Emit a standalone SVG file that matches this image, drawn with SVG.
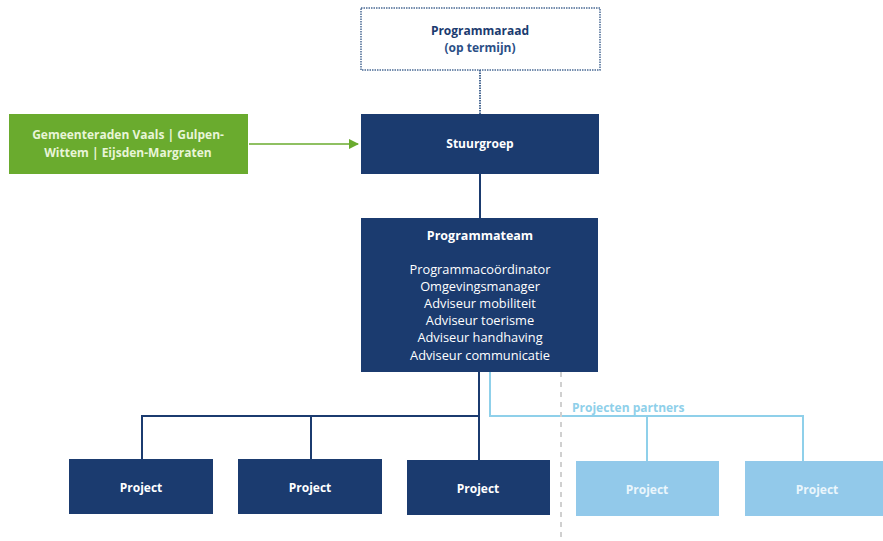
<svg xmlns="http://www.w3.org/2000/svg" width="883" height="541" viewBox="0 0 883 541">
<defs>
<style>
.dark{fill:#1b3b6f}
.light{fill:#92c9ea}
.t{font-family:"Open Sans","Liberation Sans",sans-serif;font-size:12px;text-anchor:middle}
.m{font-size:12.8px}
.b{font-weight:bold}
.w{fill:#ffffff}
.lc{fill:none;stroke:#1b3b6f;stroke-width:2}
.lb{fill:none;stroke:#8fd0ea;stroke-width:2}
</style>
<marker id="arr" viewBox="0 0 10 10" refX="9" refY="5" markerWidth="7" markerHeight="7" orient="auto">
<path d="M0,0 L10,5 L0,10 z" fill="#6aab2e"/>
</marker>
</defs>
<rect width="883" height="541" fill="#ffffff"/>
<g id="connectors">
<line x1="480" y1="70" x2="480" y2="114" stroke="#4a6a94" stroke-width="2" stroke-dasharray="1.5 1"/>
<line x1="249" y1="144" x2="358" y2="144" stroke="#6aab2e" stroke-width="1.5" marker-end="url(#arr)"/>
<line x1="480" y1="174" x2="480" y2="218" class="lc"/>
<path d="M479,372 V460 M479,416 H142 V459 M311,416 V459" class="lc"/>
<path d="M490,372 V416 H803 V461 M647,416 V461" class="lb"/>
<line x1="561" y1="372" x2="561" y2="541" stroke="#d0d0d0" stroke-width="2" stroke-dasharray="5 5"/>
<text x="572" y="412" class="t b" style="text-anchor:start" fill="#8fd0ea">Projecten partners</text>
</g>
<g id="programmaraad">
<rect x="361" y="8" width="239" height="62" fill="#ffffff" stroke="#4a6a94" stroke-width="1.5" stroke-dasharray="1.5 1"/>
<text x="480" y="35" class="t b" fill="#1b3b6f">Programmaraad</text>
<text x="480" y="52" class="t b" fill="#2b4f86">(op termijn)</text>
</g>
<g id="gemeenteraden">
<rect x="9" y="114" width="239" height="60" fill="#6aab2e"/>
<text x="128" y="139" class="t b" fill="#e8f5d8">Gemeenteraden Vaals | Gulpen-</text>
<text x="128" y="157" class="t b" fill="#e8f5d8">Wittem | Eijsden-Margraten</text>
</g>
<g id="stuurgroep">
<rect x="361" y="114" width="238" height="60" class="dark"/>
<text x="480" y="148" class="t b w">Stuurgroep</text>
</g>
<g id="programmateam">
<rect x="361" y="218" width="237" height="154" class="dark"/>
<text x="480" y="240" class="t b w" style="font-size:12.5px">Programmateam</text>
<text x="480" y="274" class="t m w">Programmacoördinator</text>
<text x="480" y="291" class="t m w">Omgevingsmanager</text>
<text x="480" y="308" class="t m w">Adviseur mobiliteit</text>
<text x="480" y="325" class="t m w">Adviseur toerisme</text>
<text x="480" y="342" class="t m w">Adviseur handhaving</text>
<text x="480" y="360" class="t m w">Adviseur communicatie</text>
</g>
<g id="project1">
<rect x="69" y="459" width="144" height="55" class="dark"/>
<text x="141" y="492" class="t b w">Project</text>
</g>
<g id="project2">
<rect x="238" y="459" width="144" height="55" class="dark"/>
<text x="310" y="492" class="t b w">Project</text>
</g>
<g id="project3">
<rect x="407" y="460" width="143" height="55" class="dark"/>
<text x="478" y="493" class="t b w">Project</text>
</g>
<g id="project4">
<rect x="576" y="461" width="143" height="55" class="light"/>
<text x="647" y="494" class="t b" fill="#eaf6fc">Project</text>
</g>
<g id="project5">
<rect x="745" y="461" width="138" height="55" class="light"/>
<text x="817" y="494" class="t b" fill="#eaf6fc">Project</text>
</g>
</svg>
